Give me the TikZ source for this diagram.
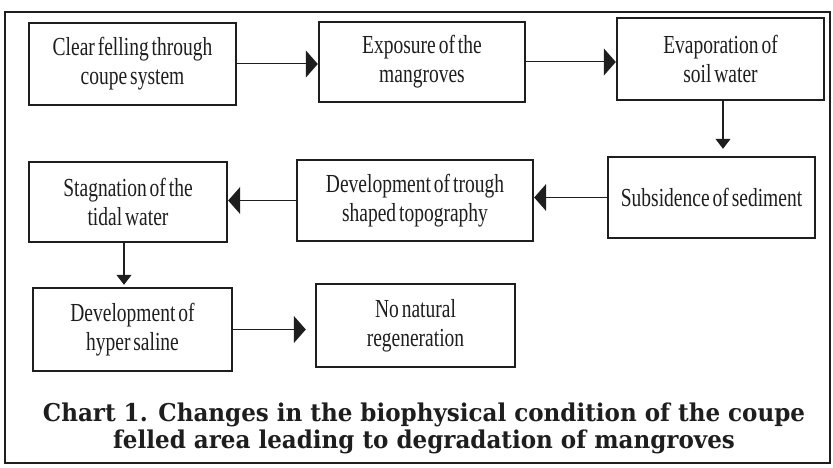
\documentclass[tikz,border=0pt]{standalone}
\usepackage{fontspec}
\setmainfont{Liberation Serif}
\newfontfamily\boxfont[FakeStretch=0.75,WordSpace=0.6]{Liberation Serif}
\newfontfamily\capfont[FakeStretch=0.94]{DejaVu Serif}
\usetikzlibrary{arrows.meta}
\definecolor{ink}{HTML}{1E1E1E}
\tikzset{
  stepbox/.style={draw=ink, line width=2.4pt, inner sep=0pt, align=center,
    text=ink, font=\boxfont\fontsize{26}{29}\selectfont},
  harrow/.style={draw=ink, line width=1pt, -{Triangle[length=12pt,width=27pt]}},
  varrow/.style={draw=ink, line width=1.2pt, -{Triangle[length=10pt,width=15pt]}},
  captxt/.style={anchor=base, inner sep=0pt, text=ink, font=\capfont\bfseries\fontsize{24.5}{27}\selectfont}
}
\begin{document}
\begin{tikzpicture}[x=1pt,y=-1pt]
\useasboundingbox (0,0) rectangle (833,468);
\fill[white] (0,0) rectangle (833,468);
\draw[ink, line width=2.4pt] (5,12) rectangle (830,463);

\node[stepbox, minimum width=207pt, minimum height=82pt] (b1) at (132.5,64) {Clear felling through\\coupe system};
\node[stepbox, minimum width=206pt, minimum height=80pt] (b2) at (422,62) {Exposure of the\\mangroves};
\node[stepbox, minimum width=207pt, minimum height=82pt] (b3) at (720.5,59) {Evaporation of\\soil water};
\node[stepbox, minimum width=207pt, minimum height=81pt] (b4) at (711.5,197.5) {Subsidence of sediment};
\node[stepbox, minimum width=236pt, minimum height=81pt] (b5) at (415,200.5) {Development of trough\\shaped topography};
\node[stepbox, minimum width=198pt, minimum height=80pt] (b6) at (128,202) {Stagnation of the\\tidal water};
\node[stepbox, minimum width=199pt, minimum height=83pt] (b7) at (132.5,329.5) {Development of\\hyper saline};
\node[stepbox, minimum width=199pt, minimum height=83pt] (b8) at (415.5,325.5) {No natural\\regeneration};

\draw[harrow] (b1.east) -- (b1.east -| b2.west);
\draw[harrow] (b2.east) -- (b2.east -| b3.west);
\draw[varrow, shorten >=7pt] ([xshift=2.5pt]b3.south) -- ([xshift=2.5pt]b3.south |- b4.north);
\draw[harrow] (b4.west) -- (b4.west -| b5.east);
\draw[harrow] (b5.west) -- (b5.west -| b6.east);
\draw[varrow, shorten >=2pt] ([xshift=-4pt]b6.south) -- ([xshift=-4pt]b6.south |- b7.north);
\draw[harrow, shorten >=9pt] (b7.east) -- (b7.east -| b8.west);

\node[captxt] (cap1) at (424,421) {Chart 1. Changes in the biophysical condition of the coupe};
\node[captxt] (cap2) at (424,448) {felled area leading to degradation of mangroves};
\end{tikzpicture}
\end{document}
